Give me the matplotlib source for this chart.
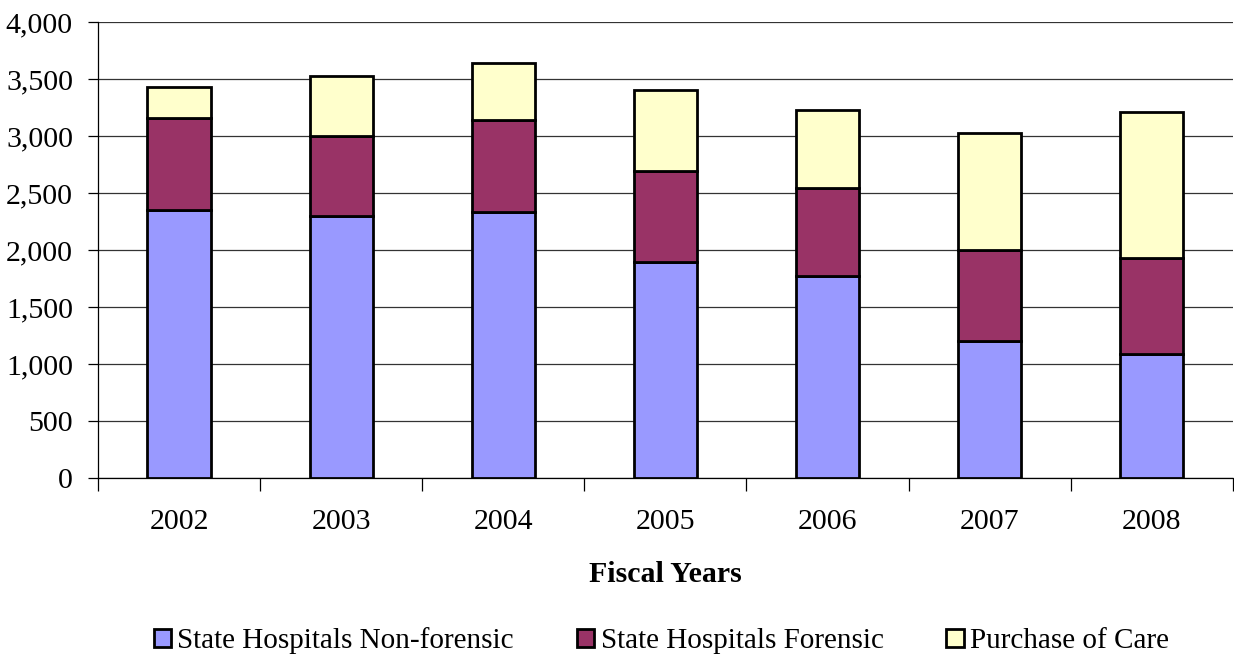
import numpy as np
import matplotlib
matplotlib.use("Agg")
from matplotlib import pyplot as plt
from matplotlib.ticker import FuncFormatter

# fiscal years and census by source of care
years = ['2002', '2003', '2004', '2005', '2006', '2007', '2008']
non_forensic = [2351, 2299, 2334, 1893, 1775, 1203, 1084]
forensic = [805, 699, 804, 799, 769, 801, 844]
purchase_of_care = [276, 527, 501, 708, 687, 1026, 1280]

labels = ['State Hospitals Non-forensic', 'State Hospitals Forensic', 'Purchase of Care']
colors = ['#9999FF', '#993366', '#FFFFCC']

plt.rcParams['font.family'] = ['Liberation Serif', 'DejaVu Serif']
FS = 21.5

fig = plt.figure(figsize=(12.34, 6.57), dpi=100)
ax = fig.add_axes([0.0794, 0.2725, 0.9196, 0.694])

x = np.arange(len(years))
bottom = np.zeros(len(years))
for vals, lab, col in zip([non_forensic, forensic, purchase_of_care], labels, colors):
    ax.bar(x, vals, 0.39, bottom=bottom, color=col, edgecolor='black',
           linewidth=2.0, label=lab, zorder=3)
    bottom += np.array(vals)

ax.set_xlim(-0.5, len(years) - 0.5)
ax.set_ylim(0, 4000)
ax.set_yticks(np.arange(0, 4001, 500))
ax.yaxis.set_major_formatter(FuncFormatter(lambda v, p: '{:,.0f}'.format(v)))
ax.yaxis.grid(True, color='#333333', linewidth=0.9, zorder=0)

# year labels centred, tick marks on category boundaries
ax.set_xticks(x)
ax.set_xticklabels(years)
ax.tick_params(axis='x', which='major', length=0, pad=22.5, labelsize=FS)
ax.set_xticks(np.arange(-0.5, len(years)), minor=True)
ax.tick_params(axis='x', which='minor', length=9, width=0.9, direction='out')
ax.tick_params(axis='y', length=7, width=0.9, labelsize=FS, pad=11)

for s in ['top', 'right']:
    ax.spines[s].set_visible(False)
ax.spines['left'].set_linewidth(0.9)
ax.spines['bottom'].set_linewidth(0.9)

ax.set_xlabel('Fiscal Years', fontsize=FS, fontweight='bold', labelpad=18.5)

fig.legend(loc='center', bbox_to_anchor=(0.536, 0.025), ncol=3, frameon=False,
           fontsize=21, handlelength=0.6, handleheight=0.6, handletextpad=0.22,
           columnspacing=2.15, borderpad=0)

fig.savefig('out.png', dpi=100)
